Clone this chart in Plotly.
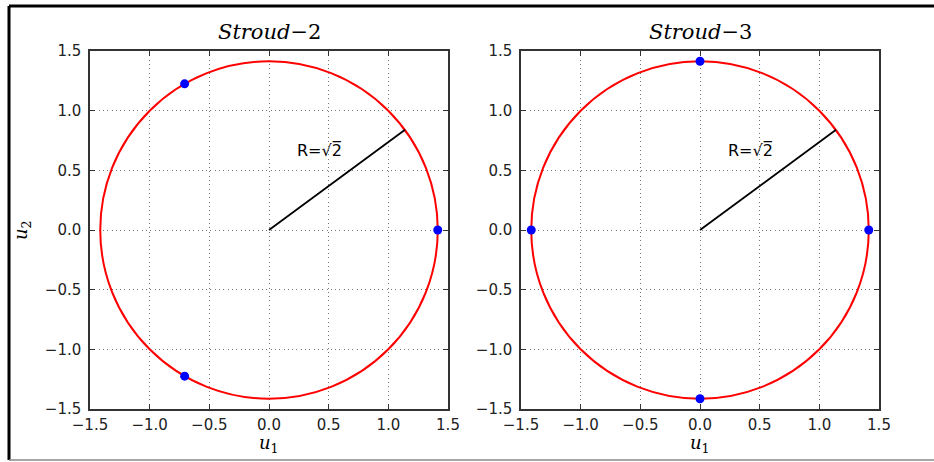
import plotly.graph_objects as go

# ---- data ----
radius = 1.4142
stroud2_u1 = [1.4142, -0.7071, -0.7071]
stroud2_u2 = [0.0, 1.2247, -1.2247]
stroud3_u1 = [1.4142, 0.0, -1.4142, 0.0]
stroud3_u2 = [0.0, 1.4142, 0.0, -1.4142]
radius_line_u1 = [0.0, 1.14]
radius_line_u2 = [0.0, 0.84]
titles = ["<i>Stroud</i>−2", "<i>Stroud</i>−3"]
tick_vals = [-1.5, -1.0, -0.5, 0.0, 0.5, 1.0, 1.5]
tick_text = ["−1.5", "−1.0", "−0.5", "0.0", "0.5", "1.0", "1.5"]
label_text = "R=√2\u0305"
label_pos = (0.22, 0.67)

W, H = 934, 462
fig = go.Figure()

# plot areas in pixels
x_doms = [(90, 448), (521, 879)]
y_dom = (51, 409)

def px_x(p):
    return p / W

def px_y(p):
    return (H - p) / H

sets = [(stroud2_u1, stroud2_u2), (stroud3_u1, stroud3_u2)]
for i, (u1, u2) in enumerate(sets):
    xa = "x" if i == 0 else "x2"
    ya = "y" if i == 0 else "y2"
    fig.add_trace(go.Scatter(x=radius_line_u1, y=radius_line_u2, mode="lines",
                             line=dict(color="black", width=1.8),
                             xaxis=xa, yaxis=ya, showlegend=False, hoverinfo="skip"))
    fig.add_shape(type="circle", xref=xa, yref=ya,
                  x0=-radius, y0=-radius, x1=radius, y1=radius,
                  line=dict(color="#ff0000", width=2), layer="between")
    fig.add_trace(go.Scatter(x=u1, y=u2, mode="markers",
                             marker=dict(color="#0000ff", size=9, line=dict(width=0)),
                             xaxis=xa, yaxis=ya, showlegend=False, cliponaxis=False))
    fig.add_annotation(x=label_pos[0], y=label_pos[1], xref=xa, yref=ya,
                       text=label_text, showarrow=False, xanchor="left", yanchor="middle",
                       font=dict(family="DejaVu Sans", size=16, color="black"))
    cx = (x_doms[i][0] + x_doms[i][1]) / 2
    fig.add_annotation(x=px_x(cx), y=px_y(32), xref="paper", yref="paper",
                       text=titles[i], showarrow=False, xanchor="center", yanchor="middle",
                       font=dict(family="DejaVu Serif", size=21, color="black"))
    fig.add_annotation(x=px_x(cx), y=px_y(430), xref="paper", yref="paper",
                       text="<i>u</i><sub>1</sub>", showarrow=False, xanchor="center", yanchor="top",
                       font=dict(family="DejaVu Serif", size=18, color="black"))

fig.add_annotation(x=px_x(22), y=px_y(230), xref="paper", yref="paper",
                   text="<i>u</i><sub>2</sub>", showarrow=False, textangle=-90,
                   xanchor="center", yanchor="middle",
                   font=dict(family="DejaVu Serif", size=18, color="black"))

axis_common = dict(range=[-1.5, 1.5], tickvals=tick_vals, ticktext=tick_text,
                   showgrid=True, gridcolor="#777777", griddash="1px,3.3px", gridwidth=1,
                   showline=True, linecolor="#333333", linewidth=1.5, mirror="ticks",
                   ticks="inside", ticklen=5, tickcolor="#333333", automargin=False,
                   zeroline=False, tickfont=dict(family="DejaVu Sans", size=15, color="#222222"))

fig.update_layout(
    template="none",
    width=W, height=H, margin=dict(l=0, r=0, t=0, b=0, pad=0, autoexpand=False),
    paper_bgcolor="white", plot_bgcolor="white",
    xaxis=dict(domain=[px_x(x_doms[0][0]), px_x(x_doms[0][1])], anchor="y", ticklabelstandoff=1, **axis_common),
    yaxis=dict(domain=[px_y(y_dom[1]), px_y(y_dom[0])], anchor="x", ticklabelstandoff=4, **axis_common),
    xaxis2=dict(domain=[px_x(x_doms[1][0]), px_x(x_doms[1][1])], anchor="y2", ticklabelstandoff=1, **axis_common),
    yaxis2=dict(domain=[px_y(y_dom[1]), px_y(y_dom[0])], anchor="x2", ticklabelstandoff=4, **axis_common),
)

# image frame
fig.add_shape(type="line", xref="paper", yref="paper", x0=px_x(9), x1=1, y0=px_y(6), y1=px_y(6),
              line=dict(color="black", width=3))
fig.add_shape(type="line", xref="paper", yref="paper", x0=px_x(9), x1=px_x(9), y0=px_y(460), y1=px_y(6),
              line=dict(color="black", width=3))
fig.add_shape(type="line", xref="paper", yref="paper", x0=px_x(9), x1=1, y0=px_y(460), y1=px_y(460),
              line=dict(color="#888888", width=1.5))

fig.write_html("out.html", config={"displayModeBar": False},
               post_script="document.body.style.margin='0';document.body.style.overflow='hidden';")
